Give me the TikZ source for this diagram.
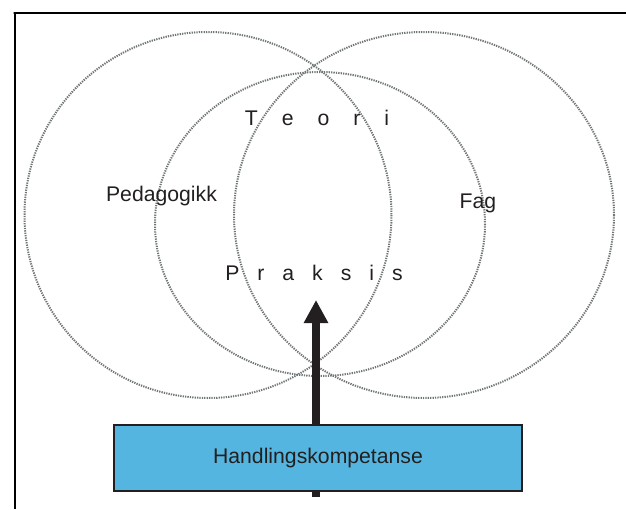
\documentclass[tikz,border=0pt]{standalone}
\usepackage{fontspec}
\setmainfont{Liberation Sans}
\usetikzlibrary{arrows.meta}
\definecolor{ink}{RGB}{35,31,32}
\definecolor{ringgray}{RGB}{112,117,119}
\definecolor{boxblue}{RGB}{84,182,224}
\begin{document}
\begin{tikzpicture}[x=1pt,y=-1pt,
  ring/.style={draw=ringgray,line width=2pt,dash pattern=on 1.3pt off 1.1pt},
  label/.style={font=\fontsize{21.2}{24}\selectfont,text=ink,inner sep=0pt,anchor=base},
  framestroke/.style={draw=black,line width=2pt},
  compbox/.style={draw=ink,fill=boxblue,line width=2pt,minimum width=408pt,minimum height=66pt,inner sep=0pt,
    font=\fontsize{21.2}{24}\selectfont,text=ink},
  bigarrow/.style={draw=ink,line width=8pt,-{Triangle[width=23pt,length=23pt]}}
]
\useasboundingbox (0,0) rectangle (626,509);

% frame: top and left rules
\coordinate (fTR) at (626,13);
\coordinate (fBL) at (14.5,509);
\draw[framestroke] (fTR) -- (13.5,13) -- (14.5,13) -- (fBL);

% the three overlapping circles
\draw[ring] (208,215) ellipse [x radius=183.5,y radius=183];
\draw[ring] (424,215) ellipse [x radius=190,y radius=183];
\draw[ring] (320,224) ellipse [x radius=165,y radius=152];

% arrow up from the competence box
\coordinate (arrowfoot) at (316,497);
\coordinate (arrowtip) at (316,300);
\draw[bigarrow] (arrowfoot) -- (arrowtip);

\node[compbox] (hk) at (318,458) {Handlingskompetanse};

% labels
\node[label] (ped) at (161.5,201) {Pedagogikk};
\node[label] (fag) at (478,208) {Fag};
\node[label] (teori) at (317,125) {T\kern24pt e\kern24pt o\kern24pt r\kern24pt i};
\node[label] (praksis) at (314,280) {P\kern18pt r\kern18pt a\kern18pt k\kern18pt s\kern18pt i\kern18pt s};
\end{tikzpicture}
\end{document}
